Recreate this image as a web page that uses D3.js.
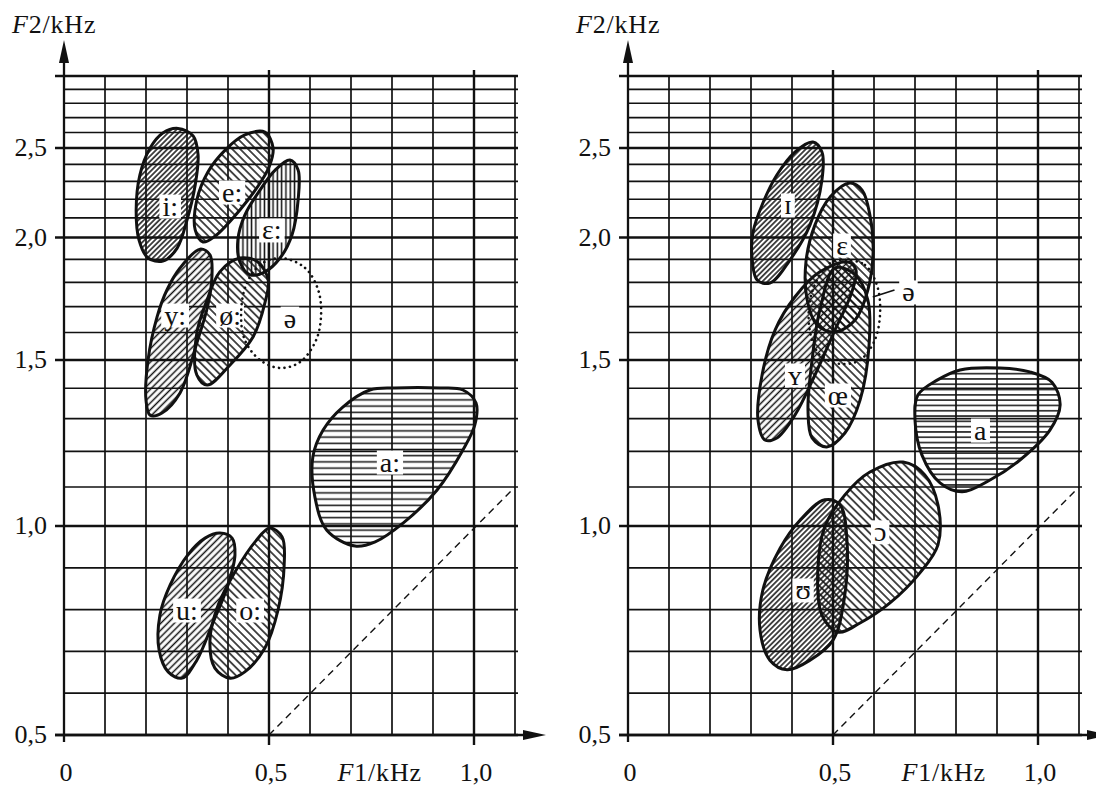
<!DOCTYPE html>
<html>
<head>
<meta charset="utf-8">
<script src="https://cdn.jsdelivr.net/npm/d3@7"></script>
<style>
  html, body { margin: 0; padding: 0; background: #fff; }
  svg { display: block; }
  text { font-family: "Liberation Serif", "Times New Roman", serif; fill: #111; }
</style>
</head>
<body>
<svg id="chart" width="1096" height="787"></svg>
<script>
// ---------- axes ----------
const f1TickValues = [0, 0.5, 1.0];
const f1TickLabels = ["0", "0,5", "1,0"];
const f2TickValues = [0.5, 1.0, 1.5, 2.0, 2.5];
const f2TickLabels = ["0,5", "1,0", "1,5", "2,0", "2,5"];
const f1Grid = d3.range(1, 12).map(i => i / 10);   // 0.1 … 1.1 kHz
const f2Grid = d3.range(5, 31).map(i => i / 10);   // 0.5 … 3.0 kHz
const f1Major = [0.5, 1.0];
const f2Major = [0.5, 1.0, 1.5, 2.0, 2.5, 3.0];

// ---------- vowel areas, [F1 kHz, F2 kHz] ----------
// long vowels (left chart)
const longI = [[0.278,2.627],[0.315,2.578],[0.327,2.457],[0.320,2.280],[0.300,2.089],[0.276,1.951],[0.241,1.892],[0.205,1.906],[0.183,1.988],[0.176,2.142],[0.185,2.337],[0.210,2.500],[0.241,2.597]];
const longE = [[0.490,2.603],[0.510,2.500],[0.502,2.396],[0.483,2.308],[0.429,2.142],[0.368,2.006],[0.339,1.979],[0.320,2.038],[0.324,2.196],[0.351,2.355],[0.393,2.487],[0.441,2.584]];
const longEps = [[0.551,2.426],[0.571,2.366],[0.571,2.196],[0.556,2.013],[0.527,1.906],[0.490,1.845],[0.454,1.832],[0.429,1.888],[0.424,1.988],[0.441,2.115],[0.478,2.251],[0.515,2.366]];
const longY = [[0.332,1.946],[0.356,1.920],[0.361,1.832],[0.351,1.707],[0.324,1.561],[0.283,1.384],[0.239,1.318],[0.210,1.311],[0.200,1.360],[0.205,1.500],[0.227,1.660],[0.251,1.768],[0.283,1.862]];
const longOslash = [[0.429,1.906],[0.473,1.888],[0.498,1.810],[0.490,1.715],[0.461,1.583],[0.405,1.482],[0.349,1.411],[0.324,1.446],[0.324,1.598],[0.349,1.727],[0.380,1.845]];
const schwaL = [[0.529,1.906],[0.588,1.862],[0.620,1.768],[0.627,1.667],[0.615,1.572],[0.576,1.493],[0.527,1.471],[0.478,1.500],[0.441,1.572],[0.432,1.675],[0.444,1.789],[0.478,1.875]];
const longA = [[0.746,1.394],[0.807,1.401],[0.917,1.401],[0.973,1.394],[1.005,1.350],[1.002,1.280],[0.973,1.204],[0.910,1.092],[0.827,1.007],[0.759,0.962],[0.710,0.952],[0.641,0.990],[0.612,1.073],[0.607,1.184],[0.632,1.264],[0.680,1.337]];
const longU = [[0.380,0.983],[0.410,0.971],[0.417,0.931],[0.400,0.859],[0.361,0.763],[0.324,0.679],[0.288,0.636],[0.254,0.651],[0.232,0.703],[0.234,0.787],[0.259,0.859],[0.302,0.931],[0.344,0.971]];
const longO = [[0.502,0.995],[0.532,0.974],[0.537,0.907],[0.522,0.799],[0.490,0.708],[0.441,0.651],[0.405,0.636],[0.368,0.660],[0.356,0.727],[0.376,0.811],[0.417,0.890],[0.466,0.962]];

// short vowels (right chart)
const shortI = [[0.451,2.538],[0.473,2.475],[0.473,2.308],[0.444,2.064],[0.395,1.897],[0.346,1.797],[0.315,1.810],[0.302,1.920],[0.305,2.028],[0.327,2.169],[0.363,2.337],[0.407,2.475]];
const shortEps = [[0.541,2.291],[0.571,2.251],[0.590,2.115],[0.598,1.942],[0.585,1.768],[0.554,1.648],[0.505,1.602],[0.461,1.629],[0.437,1.727],[0.434,1.888],[0.456,2.064],[0.493,2.213]];
const shortY = [[0.537,1.888],[0.556,1.853],[0.546,1.760],[0.505,1.610],[0.456,1.446],[0.407,1.311],[0.363,1.240],[0.334,1.234],[0.317,1.296],[0.327,1.446],[0.359,1.610],[0.407,1.739],[0.468,1.845]];
const shortOe = [[0.505,1.862],[0.554,1.832],[0.585,1.727],[0.588,1.554],[0.566,1.360],[0.529,1.255],[0.485,1.213],[0.449,1.240],[0.439,1.328],[0.449,1.500],[0.468,1.687]];
const schwaR = [[0.529,1.897],[0.578,1.875],[0.607,1.789],[0.615,1.679],[0.602,1.572],[0.566,1.500],[0.517,1.486],[0.468,1.518],[0.444,1.602],[0.444,1.727],[0.468,1.832],[0.493,1.883]];
const shortA = [[0.754,1.428],[0.810,1.464],[0.907,1.471],[0.980,1.457],[1.034,1.421],[1.054,1.344],[1.029,1.264],[0.956,1.175],[0.883,1.119],[0.815,1.087],[0.761,1.111],[0.717,1.189],[0.700,1.296],[0.707,1.377]];
const shortOpenO = [[0.671,1.169],[0.724,1.133],[0.756,1.053],[0.756,0.955],[0.712,0.888],[0.639,0.816],[0.566,0.768],[0.512,0.746],[0.473,0.787],[0.463,0.895],[0.480,0.998],[0.529,1.079],[0.590,1.141]];
const shortU = [[0.480,1.066],[0.517,1.053],[0.534,0.967],[0.527,0.823],[0.500,0.727],[0.444,0.679],[0.388,0.656],[0.346,0.679],[0.322,0.751],[0.329,0.847],[0.371,0.947],[0.420,1.015]];

// vowel symbols and where they sit [F1, F2]
const leftNames  = ["i:", "e:", "ε:", "y:", "ø:", "ə", "a:", "u:", "o:"];
const leftAreas  = [longI, longE, longEps, longY, longOslash, schwaL, longA, longU, longO];
const leftLabelAt = [[0.259,2.163],[0.410,2.240],[0.507,2.038],[0.271,1.667],[0.405,1.667],[0.551,1.655],[0.795,1.169],[0.300,0.799],[0.454,0.799]];
const rightNames = ["ɪ", "ε", "ʏ", "œ", "ə", "a", "ɔ", "ʊ"];
const rightAreas = [shortI, shortEps, shortY, shortOe, schwaR, shortA, shortOpenO, shortU];
const rightLabelAt = [[0.390,2.169],[0.522,1.965],[0.407,1.446],[0.512,1.377],[0.684,1.760],[0.859,1.264],[0.615,0.986],[0.427,0.847]];
const schwaLeaderR = [[0.597,1.739],[0.650,1.768]];
const diagonalF = [0.5, 1.1];   // F1 = F2 reference line

// ---------- hatch styles ----------
// angle: -45 "/", 45 "\", 90 vertical, 0 horizontal; gap = perpendicular spacing
const hatchDefs = {
  fwdDense: { angle: -45, gap: 3.7 },
  fwd:      { angle: -45, gap: 4.8 },
  backWide: { angle: 45,  gap: 5.6 },
  vert:     { angle: 90,  gap: 4.3 },
  horiz:    { angle: 0,   gap: 6.2 },
  horizR:   { angle: 0,   gap: 5.3 }
};
const leftHatch  = ["fwdDense", "backWide", "vert", "fwd", "backWide", null, "horiz", "fwd", "backWide"];
const rightHatch = ["fwdDense", "backWide", "fwd", "backWide", null, "horizR", "backWide", "fwdDense"];

// ---------- scales ----------
// F2 axis: linear up to 1 kHz, logarithmic above
const f2Warp = f => (f <= 1 ? f - 1 : Math.log(f));
const yWarped = d3.scaleLinear()
  .domain([0.5, 1.0, 1.5, 2.0, 2.5, 3.0].map(f2Warp))
  .range([735, 526, 360, 237.5, 148, 76]);
const y = f => yWarped(f2Warp(f));

const ink = "#111";
const svg = d3.select("#chart");
const defs = svg.append("defs");

Object.entries(hatchDefs).forEach(([id, h]) => {
  const p = defs.append("pattern")
    .attr("id", "hatch-" + id)
    .attr("patternUnits", "userSpaceOnUse")
    .attr("width", 10).attr("height", h.gap)
    .attr("patternTransform", `rotate(${h.angle})`);
  p.append("line")
    .attr("x1", -1).attr("x2", 11)
    .attr("y1", h.gap / 2).attr("y2", h.gap / 2)
    .attr("stroke", ink).attr("stroke-width", 1.5);
});

function drawPanel(x0, areas, names, labelAt, hatches, extra) {
  const x = d3.scaleLinear().domain([0, 1]).range([x0, x0 + 410]);
  const g = svg.append("g");
  const xRight = x(1.1);

  // grid
  const isMajor2 = v => f2Major.some(m => Math.abs(m - v) < 1e-6);
  const isMajor1 = v => f1Major.some(m => Math.abs(m - v) < 1e-6);
  g.append("g").selectAll("line").data(f2Grid).join("line")
    .attr("x1", v => x(0) - (isMajor2(v) ? 9 : 0))
    .attr("x2", xRight + 3)
    .attr("y1", v => y(v)).attr("y2", v => y(v))
    .attr("stroke", ink)
    .attr("stroke-width", v => isMajor2(v) ? 2.4 : 1.7);
  g.append("g").selectAll("line").data(f1Grid).join("line")
    .attr("x1", v => x(v)).attr("x2", v => x(v))
    .attr("y1", v => y(0.5) + (isMajor1(v) ? 10 : 0))
    .attr("y2", v => y(3.0) - (isMajor1(v) ? 6 : 0))
    .attr("stroke", ink)
    .attr("stroke-width", v => isMajor1(v) ? 2.4 : 1.7);

  // axes with arrows
  g.append("line")
    .attr("x1", x(0)).attr("x2", x(0))
    .attr("y1", y(0.5) + 7).attr("y2", 60)
    .attr("stroke", ink).attr("stroke-width", 2.3);
  g.append("path")
    .attr("d", `M${x(0)},40 L${x(0) - 5},63 L${x(0) + 5},63 Z`)
    .attr("fill", ink);
  g.append("line")
    .attr("x1", x(0) - 9).attr("x2", xRight + 12)
    .attr("y1", y(0.5)).attr("y2", y(0.5))
    .attr("stroke", ink).attr("stroke-width", 2.3);
  const tip = xRight + 31;
  g.append("path")
    .attr("d", `M${tip},${y(0.5)} L${tip - 23},${y(0.5) - 5} L${tip - 23},${y(0.5) + 5} Z`)
    .attr("fill", ink);

  // F1 = F2 line
  g.append("line")
    .attr("x1", x(diagonalF[0])).attr("y1", y(diagonalF[0]))
    .attr("x2", x(diagonalF[1])).attr("y2", y(diagonalF[1]))
    .attr("stroke", ink).attr("stroke-width", 1.4)
    .attr("stroke-dasharray", "7,5");

  // axis labels
  g.append("g").selectAll("text").data(f2TickValues).join("text")
    .attr("x", x(0) - 17).attr("y", v => y(v) + 8)
    .attr("text-anchor", "end")
    .attr("font-size", 26)
    .text((v, i) => f2TickLabels[i]);
  g.append("g").selectAll("text").data(f1TickValues).join("text")
    .attr("x", v => x(v) + 2).attr("y", 781)
    .attr("text-anchor", "middle")
    .attr("font-size", 26)
    .text((v, i) => f1TickLabels[i]);
  const t2 = g.append("text").attr("x", x(0) - 52).attr("y", 33)
    .attr("font-size", 26).attr("letter-spacing", 0.8);
  t2.append("tspan").attr("font-style", "italic").text("F");
  t2.append("tspan").text("2/kHz");
  const t1 = g.append("text").attr("x", x(0.77)).attr("y", 781)
    .attr("text-anchor", "middle").attr("font-size", 26).attr("letter-spacing", 0.8);
  t1.append("tspan").attr("font-style", "italic").text("F");
  t1.append("tspan").text("1/kHz");

  // vowel areas
  const line = d3.line()
    .x(d => x(d[0])).y(d => y(d[1]))
    .curve(d3.curveCatmullRomClosed.alpha(0.5));

  const fills = g.append("g");
  const labelBg = g.append("g");
  const outlines = g.append("g");
  const labels = g.append("g");

  areas.forEach((pts, i) => {
    const h = hatches[i];
    if (h) {
      fills.append("path").attr("d", line(pts))
        .attr("fill", `url(#hatch-${h})`).attr("stroke", "none");
      outlines.append("path").attr("d", line(pts))
        .attr("fill", "none").attr("stroke", ink)
        .attr("stroke-width", 3).attr("stroke-linejoin", "round");
    } else {
      outlines.append("path").attr("d", line(pts))
        .attr("fill", "none").attr("stroke", ink)
        .attr("stroke-width", 2.6).attr("stroke-linecap", "round")
        .attr("stroke-dasharray", "0.1,5.4");
    }
  });

  names.forEach((name, i) => {
    const [f1, f2] = labelAt[i];
    const t = labels.append("text")
      .attr("x", x(f1)).attr("y", y(f2))
      .attr("text-anchor", "middle")
      .attr("dominant-baseline", "central")
      .attr("font-size", 28)
      .text(name);
    const b = t.node().getBBox();
    labelBg.append("rect")
      .attr("x", b.x - 3).attr("y", b.y + 4)
      .attr("width", b.width + 6).attr("height", b.height - 7)
      .attr("fill", "#fff");
  });

  if (extra) extra(g, x);
}

drawPanel(64, leftAreas, leftNames, leftLabelAt, leftHatch);
drawPanel(628, rightAreas, rightNames, rightLabelAt, rightHatch, (g, x) => {
  g.append("line")
    .attr("x1", x(schwaLeaderR[0][0])).attr("y1", y(schwaLeaderR[0][1]))
    .attr("x2", x(schwaLeaderR[1][0])).attr("y2", y(schwaLeaderR[1][1]))
    .attr("stroke", ink).attr("stroke-width", 1.7);
});
</script>
</body>
</html>
